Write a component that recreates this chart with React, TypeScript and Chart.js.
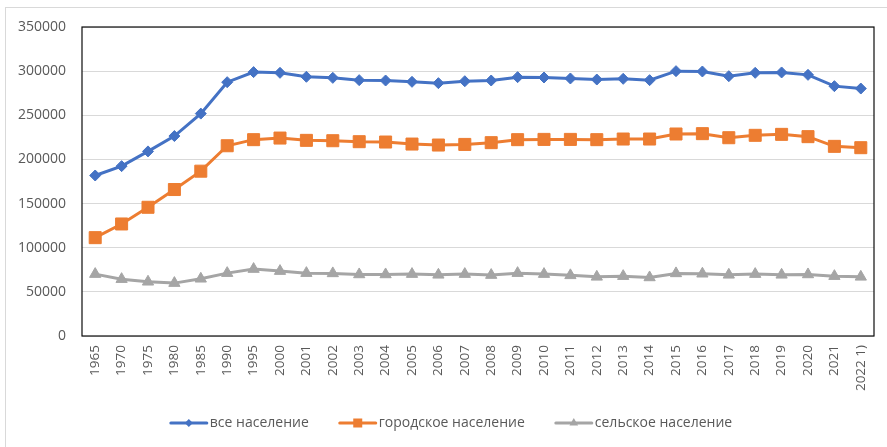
import React, { useEffect, useRef } from "react";
import { Chart, registerables } from "chart.js";

Chart.register(...registerables);

const categories = [
  "1965", "1970", "1975", "1980", "1985", "1990", "1995", "2000", "2001", "2002",
  "2003", "2004", "2005", "2006", "2007", "2008", "2009", "2010", "2011", "2012",
  "2013", "2014", "2015", "2016", "2017", "2018", "2019", "2020", "2021", "2022 1)",
];

const totalPopulation = [
  181800, 192400, 209100, 226500, 251900, 287500, 298900, 298100, 293600, 292400,
  289800, 289400, 287900, 286400, 288600, 289400, 293200, 292800, 291700, 290500,
  291300, 289800, 300000, 299600, 294300, 298100, 298500, 295800, 283000, 280300,
];

const urbanPopulation = [
  111400, 126900, 145800, 165900, 186700, 215500, 222400, 224200, 221600, 221200,
  220100, 219700, 217400, 216300, 217000, 219000, 222400, 222700, 222700, 222400,
  223100, 223100, 228800, 229200, 224600, 227300, 228400, 225800, 214800, 213300,
];

const ruralPopulation = [
  70100, 64400, 61400, 59900, 64800, 71200, 75800, 73500, 71200, 70900,
  69700, 69700, 70100, 69300, 70100, 69000, 71200, 70100, 68700, 67000,
  67800, 66300, 70900, 70500, 69300, 70100, 69300, 69700, 67800, 67000,
];

const seriesNames = ["все население", "городское население", "сельское население"];
const seriesColors = ["#4472C4", "#ED7D31", "#A5A5A5"];
const seriesMarkers = ["rectRot", "rect", "triangle"];

const FONT = "'Open Sans', 'Noto Sans', sans-serif";
const TEXT = "#595959";

const plotFramePlugin = {
  id: "plotFrame",
  beforeDatasetsDraw(chart: any) {
    const { ctx, chartArea } = chart;
    ctx.save();
    ctx.strokeStyle = "#0d0d0d";
    ctx.lineWidth = 1.2;
    ctx.strokeRect(chartArea.left, chartArea.top, chartArea.right - chartArea.left, chartArea.bottom - chartArea.top);
    ctx.restore();
  },
};

function drawMarker(ctx: CanvasRenderingContext2D, style: string, x: number, y: number) {
  ctx.beginPath();
  if (style === "rectRot") {
    const r = 4;
    ctx.moveTo(x, y - r);
    ctx.lineTo(x + r, y);
    ctx.lineTo(x, y + r);
    ctx.lineTo(x - r, y);
    ctx.closePath();
  } else if (style === "rect") {
    const h = 4.5;
    ctx.rect(x - h, y - h, 2 * h, 2 * h);
  } else {
    const r = 5;
    ctx.moveTo(x, y - r);
    ctx.lineTo(x + r * 0.866, y + r * 0.5);
    ctx.lineTo(x - r * 0.866, y + r * 0.5);
    ctx.closePath();
  }
  ctx.fill();
}

const excelLegendPlugin = {
  id: "excelLegend",
  afterDraw(chart: any) {
    const { ctx } = chart;
    const y = 423;
    const sampleW = 38;
    const textGap = 2;
    const itemGap = 30;
    ctx.save();
    ctx.font = `14px ${FONT}`;
    const items = chart.data.datasets.map((ds: any) => ({
      ds,
      w: sampleW + textGap + ctx.measureText(ds.label).width,
    }));
    const total = items.reduce((s: number, it: any) => s + it.w, 0) + itemGap * (items.length - 1);
    let x = 451 - total / 2;
    items.forEach((it: any) => {
      const ds = it.ds;
      ctx.strokeStyle = ds.borderColor;
      ctx.lineWidth = 3;
      ctx.lineCap = "round";
      ctx.beginPath();
      ctx.moveTo(x + 1, y);
      ctx.lineTo(x + sampleW - 1, y);
      ctx.stroke();
      ctx.fillStyle = ds.borderColor;
      drawMarker(ctx, ds.pointStyle, x + sampleW / 2, y);
      ctx.fillStyle = TEXT;
      ctx.textBaseline = "middle";
      ctx.textAlign = "left";
      ctx.fillText(ds.label, x + sampleW + textGap, y);
      x += it.w + itemGap;
    });
    ctx.restore();
  },
};

export default function App() {
  const canvasRef = useRef<HTMLCanvasElement | null>(null);

  useEffect(() => {
    if (!canvasRef.current) return;
    const datasets = [totalPopulation, urbanPopulation, ruralPopulation].map((data, i) => ({
      label: seriesNames[i],
      data,
      borderColor: seriesColors[i],
      backgroundColor: seriesColors[i],
      borderWidth: 3,
      pointStyle: seriesMarkers[i],
      pointRadius: i === 0 ? 5.5 : i === 1 ? 8.5 : 6.5,
      pointBorderWidth: 1,
      pointBorderColor: seriesColors[i],
      pointBackgroundColor: seriesColors[i],
      tension: 0,
    }));
    const chart = new Chart(canvasRef.current, {
      type: "line",
      data: { labels: categories, datasets },
      options: {
        responsive: false,
        animation: false,
        layout: { padding: { top: 27, right: 13, left: 0, bottom: 51 } },
        plugins: {
          legend: { display: false },
          tooltip: { enabled: false },
        },
        scales: {
          x: {
            offset: true,
            grid: { display: false, drawTicks: false },
            border: { display: false },
            ticks: {
              color: TEXT,
              font: { family: FONT, size: 13.5 },
              minRotation: 90,
              maxRotation: 90,
              padding: 9,
              autoSkip: false,
            },
            afterFit(scale: any) {
              scale.height = 60;
            },
          },
          y: {
            min: 0,
            max: 350000,
            grid: { color: "#d9d9d9", lineWidth: 1, drawTicks: false },
            border: { display: false },
            ticks: {
              stepSize: 50000,
              color: TEXT,
              font: { family: FONT, size: 14 },
              padding: 16,
              callback: (v: any) => String(v),
            },
            afterFit(scale: any) {
              scale.width = 82;
            },
          },
        },
      },
      plugins: [plotFramePlugin, excelLegendPlugin],
    });
    return () => chart.destroy();
  }, []);

  return (
    <div style={{ position: "fixed", left: 0, top: 0, width: 887, height: 447, overflow: "hidden", background: "#fff" }}>
      <div
        style={{
          position: "absolute",
          left: 5,
          top: 7,
          width: 900,
          height: 460,
          border: "1px solid #d9d9d9",
        }}
      />
      <canvas ref={canvasRef} width={887} height={447} style={{ position: "absolute", left: 0, top: 0 }} />
    </div>
  );
}
